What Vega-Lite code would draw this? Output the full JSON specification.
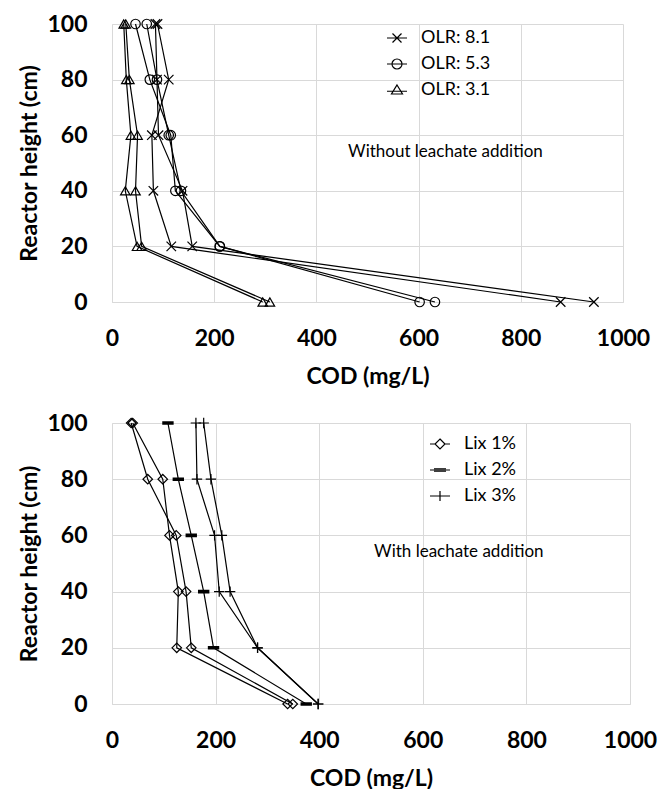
{
  "$schema": "https://vega.github.io/schema/vega-lite/v6.json",
  "background": "white",
  "padding": {"left": 17, "top": 13, "right": 5, "bottom": 5},
  "spacing": 24,
  "resolve": {"scale": {"shape": "independent"}, "legend": {"shape": "independent"}},
  "datasets": {
    "top": [
      {"g": "OLR: 8.1", "rep": 1, "h": 100, "cod": 89},
      {"g": "OLR: 8.1", "rep": 1, "h": 80, "cod": 111},
      {"g": "OLR: 8.1", "rep": 1, "h": 60, "cod": 78},
      {"g": "OLR: 8.1", "rep": 1, "h": 40, "cod": 81},
      {"g": "OLR: 8.1", "rep": 1, "h": 20, "cod": 116},
      {"g": "OLR: 8.1", "rep": 1, "h": 0, "cod": 878},
      {"g": "OLR: 8.1", "rep": 2, "h": 100, "cod": 85},
      {"g": "OLR: 8.1", "rep": 2, "h": 80, "cod": 88},
      {"g": "OLR: 8.1", "rep": 2, "h": 60, "cod": 91},
      {"g": "OLR: 8.1", "rep": 2, "h": 40, "cod": 138},
      {"g": "OLR: 8.1", "rep": 2, "h": 20, "cod": 157},
      {"g": "OLR: 8.1", "rep": 2, "h": 0, "cod": 943},
      {"g": "OLR: 5.3", "rep": 1, "h": 100, "cod": 46},
      {"g": "OLR: 5.3", "rep": 1, "h": 80, "cod": 74},
      {"g": "OLR: 5.3", "rep": 1, "h": 60, "cod": 115},
      {"g": "OLR: 5.3", "rep": 1, "h": 40, "cod": 124},
      {"g": "OLR: 5.3", "rep": 1, "h": 20, "cod": 211},
      {"g": "OLR: 5.3", "rep": 1, "h": 0, "cod": 602},
      {"g": "OLR: 5.3", "rep": 2, "h": 100, "cod": 68},
      {"g": "OLR: 5.3", "rep": 2, "h": 80, "cod": 88},
      {"g": "OLR: 5.3", "rep": 2, "h": 60, "cod": 111},
      {"g": "OLR: 5.3", "rep": 2, "h": 40, "cod": 135},
      {"g": "OLR: 5.3", "rep": 2, "h": 20, "cod": 211},
      {"g": "OLR: 5.3", "rep": 2, "h": 0, "cod": 632},
      {"g": "OLR: 3.1", "rep": 1, "h": 100, "cod": 23},
      {"g": "OLR: 3.1", "rep": 1, "h": 80, "cod": 28},
      {"g": "OLR: 3.1", "rep": 1, "h": 60, "cod": 37},
      {"g": "OLR: 3.1", "rep": 1, "h": 40, "cod": 26},
      {"g": "OLR: 3.1", "rep": 1, "h": 20, "cod": 49},
      {"g": "OLR: 3.1", "rep": 1, "h": 0, "cod": 295},
      {"g": "OLR: 3.1", "rep": 2, "h": 100, "cod": 27},
      {"g": "OLR: 3.1", "rep": 2, "h": 80, "cod": 34},
      {"g": "OLR: 3.1", "rep": 2, "h": 60, "cod": 50},
      {"g": "OLR: 3.1", "rep": 2, "h": 40, "cod": 46},
      {"g": "OLR: 3.1", "rep": 2, "h": 20, "cod": 58},
      {"g": "OLR: 3.1", "rep": 2, "h": 0, "cod": 309}
    ],
    "bottom": [
      {"g": "Lix 1%", "rep": 1, "h": 100, "cod": 37},
      {"g": "Lix 1%", "rep": 1, "h": 80, "cod": 69},
      {"g": "Lix 1%", "rep": 1, "h": 60, "cod": 124},
      {"g": "Lix 1%", "rep": 1, "h": 40, "cod": 143},
      {"g": "Lix 1%", "rep": 1, "h": 20, "cod": 153},
      {"g": "Lix 1%", "rep": 1, "h": 0, "cod": 349},
      {"g": "Lix 1%", "rep": 2, "h": 100, "cod": 40},
      {"g": "Lix 1%", "rep": 2, "h": 80, "cod": 98},
      {"g": "Lix 1%", "rep": 2, "h": 60, "cod": 111},
      {"g": "Lix 1%", "rep": 2, "h": 40, "cod": 128},
      {"g": "Lix 1%", "rep": 2, "h": 20, "cod": 125},
      {"g": "Lix 1%", "rep": 2, "h": 0, "cod": 339},
      {"g": "Lix 2%", "rep": 1, "h": 100, "cod": 108},
      {"g": "Lix 2%", "rep": 1, "h": 80, "cod": 128},
      {"g": "Lix 2%", "rep": 1, "h": 60, "cod": 153},
      {"g": "Lix 2%", "rep": 1, "h": 40, "cod": 177},
      {"g": "Lix 2%", "rep": 1, "h": 20, "cod": 196},
      {"g": "Lix 2%", "rep": 1, "h": 0, "cod": 375},
      {"g": "Lix 3%", "rep": 1, "h": 100, "cod": 162},
      {"g": "Lix 3%", "rep": 1, "h": 80, "cod": 164},
      {"g": "Lix 3%", "rep": 1, "h": 60, "cod": 198},
      {"g": "Lix 3%", "rep": 1, "h": 40, "cod": 207},
      {"g": "Lix 3%", "rep": 1, "h": 20, "cod": 281},
      {"g": "Lix 3%", "rep": 1, "h": 0, "cod": 398},
      {"g": "Lix 3%", "rep": 2, "h": 100, "cod": 177},
      {"g": "Lix 3%", "rep": 2, "h": 80, "cod": 191},
      {"g": "Lix 3%", "rep": 2, "h": 60, "cod": 212},
      {"g": "Lix 3%", "rep": 2, "h": 40, "cod": 228},
      {"g": "Lix 3%", "rep": 2, "h": 20, "cod": 281},
      {"g": "Lix 3%", "rep": 2, "h": 0, "cod": 398}
    ]
  },
  "config": {
    "view": {"stroke": null},
    "font": "Lato",
    "axis": {
      "grid": true,
      "gridColor": "#d9d9d9",
      "gridWidth": 1,
      "domainColor": "#d9d9d9",
      "ticks": false,
      "tickSize": 0,
      "labelFont": "Lato",
      "labelFontSize": 23,
      "labelFontWeight": "bold",
      "labelColor": "black",
      "titleFont": "Lato",
      "titleFontSize": 23,
      "titleFontWeight": "bold",
      "titleColor": "black",
      "labelOverlap": false
    },
    "legend": {
      "orient": "none",
      "title": null,
      "labelFont": "Lato",
      "labelFontSize": 18,
      "labelColor": "black",
      "symbolSize": 100,
      "symbolStrokeColor": "black",
      "symbolStrokeWidth": 1.2,
      "symbolFillColor": "transparent",
      "rowPadding": 8,
      "labelOffset": 15,
      "padding": 0
    }
  },
  "vconcat": [
    {
      "width": 511,
      "height": 278,
      "resolve": {"scale": {"shape": "independent"}, "legend": {"shape": "independent"}},
      "layer": [
        {
          "data": {"name": "top"},
          "mark": {"type": "line", "color": "black", "strokeWidth": 1.2},
          "encoding": {
            "x": {"field": "cod", "type": "quantitative", "scale": {"domain": [0, 1000], "nice": false, "zero": false},
              "axis": {"values": [0, 200, 400, 600, 800, 1000], "format": "d", "title": "COD (mg/L)", "labelPadding": 36, "labelBaseline": "middle", "labelFlush": false, "titleY": 74, "titleBaseline": "middle"}},
            "y": {"field": "h", "type": "quantitative", "scale": {"domain": [0, 100], "nice": false},
              "axis": {"values": [0, 20, 40, 60, 80, 100], "title": "Reactor height (cm)", "labelPadding": 25, "titleX": -83, "titleBaseline": "middle"}},
            "detail": [{"field": "g"}, {"field": "rep"}],
            "order": {"field": "h", "type": "quantitative"}
          }
        },
        {
          "data": {"name": "top"},
          "mark": {"type": "point", "filled": false, "color": "black", "strokeWidth": 1.2, "size": 90, "opacity": 1},
          "encoding": {
            "x": {"field": "cod", "type": "quantitative"},
            "y": {"field": "h", "type": "quantitative"},
            "shape": {"field": "g", "type": "nominal", "legend": null,
              "scale": {"domain": ["OLR: 8.1", "OLR: 5.3", "OLR: 3.1"], "range": ["M-1,-1L1,1M-1,1L1,-1", "circle", "triangle-up"]}}
          }
        },
        {
          "data": {"name": "top"},
          "transform": [{"filter": "false"}],
          "mark": {"type": "point", "filled": false, "color": "black", "strokeWidth": 1.2, "opacity": 1},
          "encoding": {
            "x": {"field": "cod", "type": "quantitative"},
            "y": {"field": "h", "type": "quantitative"},
            "shape": {"field": "g", "type": "nominal",
              "scale": {"domain": ["OLR: 8.1", "OLR: 5.3", "OLR: 3.1"],
                "range": ["M-2,0H2M-0.9,-0.9L0.9,0.9M-0.9,0.9L0.9,-0.9", "M-2,0H-1M1,0H2M-1,0A1,1,0,1,1,1,0A1,1,0,1,1,-1,0M-1,0H1", "M-2,0.25H2M0,-1L1.1,0.8L-1.1,0.8Z"]},
              "legend": {"legendX": 276, "legendY": 5}}
          }
        },
        {
          "data": {"values": [{}]},
          "mark": {"type": "text", "text": "Without leachate addition", "align": "left", "baseline": "middle", "font": "Lato", "fontSize": 17, "color": "black"},
          "encoding": {
            "x": {"datum": 462, "type": "quantitative"},
            "y": {"datum": 54, "type": "quantitative"}
          }
        }
      ]
    },
    {
      "width": 518,
      "height": 281,
      "resolve": {"scale": {"shape": "independent"}, "legend": {"shape": "independent"}},
      "layer": [
        {
          "data": {"name": "bottom"},
          "mark": {"type": "line", "color": "black", "strokeWidth": 1.2},
          "encoding": {
            "x": {"field": "cod", "type": "quantitative", "scale": {"domain": [0, 1000], "nice": false, "zero": false},
              "axis": {"values": [0, 200, 400, 600, 800, 1000], "format": "d", "title": "COD (mg/L)", "labelPadding": 36, "labelBaseline": "middle", "labelFlush": false, "titleY": 74, "titleBaseline": "middle"}},
            "y": {"field": "h", "type": "quantitative", "scale": {"domain": [0, 100], "nice": false},
              "axis": {"values": [0, 20, 40, 60, 80, 100], "title": "Reactor height (cm)", "labelPadding": 25, "titleX": -83, "titleBaseline": "middle"}},
            "detail": [{"field": "g"}, {"field": "rep"}],
            "order": {"field": "h", "type": "quantitative"}
          }
        },
        {
          "data": {"name": "bottom"},
          "mark": {"type": "point", "filled": false, "color": "black", "strokeWidth": 1.2, "size": 90, "opacity": 1},
          "encoding": {
            "x": {"field": "cod", "type": "quantitative"},
            "y": {"field": "h", "type": "quantitative"},
            "shape": {"field": "g", "type": "nominal", "legend": null,
              "scale": {"domain": ["Lix 1%", "Lix 2%", "Lix 3%"], "range": ["diamond", "M-1.2,-0.25H1.2M-1.2,0H1.2M-1.2,0.25H1.2", "M-1.1,0H1.1M0,-1.1V1.1"]}}
          }
        },
        {
          "data": {"name": "bottom"},
          "transform": [{"filter": "false"}],
          "mark": {"type": "point", "filled": false, "color": "black", "strokeWidth": 1.2, "opacity": 1},
          "encoding": {
            "x": {"field": "cod", "type": "quantitative"},
            "y": {"field": "h", "type": "quantitative"},
            "shape": {"field": "g", "type": "nominal",
              "scale": {"domain": ["Lix 1%", "Lix 2%", "Lix 3%"],
                "range": ["M-2,0H-1M1,0H2M0,-1L1,0L0,1L-1,0Z", "M-2,0H2M-1.2,-0.25H1.2M-1.2,0H1.2M-1.2,0.25H1.2", "M-2,0H2M0,-1V1"]},
              "legend": {"legendX": 319, "legendY": 12}}
          }
        },
        {
          "data": {"values": [{}]},
          "mark": {"type": "text", "text": "With leachate addition", "align": "left", "baseline": "middle", "font": "Lato", "fontSize": 17, "color": "black"},
          "encoding": {
            "x": {"datum": 506, "type": "quantitative"},
            "y": {"datum": 54, "type": "quantitative"}
          }
        }
      ]
    }
  ]
}
